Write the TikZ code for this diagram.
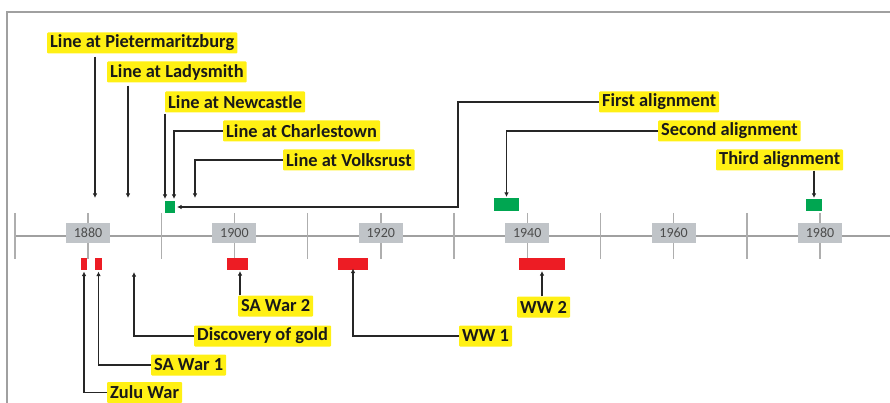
\documentclass[tikz,border=0pt]{standalone}
\usepackage{fontspec}
\setmainfont{Carlito}
\usetikzlibrary{arrows.meta}
\definecolor{hl}{RGB}{255,240,20}
\definecolor{evg}{RGB}{0,166,81}
\definecolor{evr}{RGB}{237,28,36}
\definecolor{yrbox}{RGB}{192,196,200}
\definecolor{axisgray}{RGB}{160,160,160}
\definecolor{framegray}{RGB}{160,160,160}
\tikzset{
  lbl/.style={fill=hl, text=black!90, font=\bfseries\fontsize{18.4}{20}\selectfont, inner xsep=3pt, inner ysep=0pt, minimum height=21pt, anchor=west, rounded corners=1pt},
  yr/.style={fill=yrbox, text=black!70, font=\fontsize{14}{15}\selectfont, minimum width=44pt, minimum height=20pt, inner sep=0pt},
  gbox/.style={fill=evg, inner sep=0pt, outer sep=0pt},
  rbox/.style={fill=evr, inner sep=0pt, outer sep=0pt},
  conn/.style={draw=black!85, line width=1.7pt, -{Latex[length=4.5pt,width=4.5pt]}},
  axisline/.style={draw=axisgray, line width=1.6pt},
  tickline/.style={draw=axisgray!85, line width=1.4pt},
}
\begin{document}
\begin{tikzpicture}[x=1pt,y=-1pt]
\useasboundingbox (0,0) rectangle (890,403);
% frame
\draw[framegray, line width=1.6pt] (7,403) -- (7,12) -- (890,12);
% axis
\draw[axisline] (14,236) -- (890,236);
\foreach \xx in {14.8,161.2,307.6,454,600.4,746.8,88,234.4,380.8,527.2,673.6,820}
  \draw[tickline] (\xx,213) -- (\xx,259);
\node[yr] (y1880) at (88,233) {1880};
\node[yr] (y1900) at (234.4,233) {1900};
\node[yr] (y1920) at (380.8,233) {1920};
\node[yr] (y1940) at (527.2,233) {1940};
\node[yr] (y1960) at (673.6,233) {1960};
\node[yr] (y1980) at (820,233) {1980};
% event boxes
\node[gbox, minimum width=10pt, minimum height=12pt] (g1) at (170,207) {};
\node[gbox, minimum width=25pt, minimum height=13pt] (g2) at (506.5,204.5) {};
\node[gbox, minimum width=16pt, minimum height=12pt] (g3) at (814,205) {};
\node[rbox, minimum width=6pt, minimum height=12pt] (rz) at (84,264) {};
\node[rbox, minimum width=7pt, minimum height=12pt] (rs1) at (98.5,264) {};
\node[rbox, minimum width=21pt, minimum height=12pt] (rs2) at (237.5,264) {};
\node[rbox, minimum width=30pt, minimum height=12pt] (rw1) at (353,264) {};
\node[rbox, minimum width=46pt, minimum height=12pt] (rw2) at (542,264) {};
% labels top
\node[lbl] (pm) at (47,43) {Line at Pietermaritzburg};
\node[lbl] (ls) at (107,72) {Line at Ladysmith};
\node[lbl] (nc) at (165,102) {Line at Newcastle};
\node[lbl] (ch) at (223,131) {Line at Charlestown};
\node[lbl] (vr) at (283,160) {Line at Volksrust};
\node[lbl] (fa) at (599,102) {First alignment};
\node[lbl] (sa) at (658,131) {Second alignment};
\node[lbl] (ta) at (716,160) {Third alignment};
% labels bottom
\node[lbl] (s2) at (238,306) {SA War 2};
\node[lbl] (dg) at (194,336) {Discovery of gold};
\node[lbl] (s1) at (151,365) {SA War 1};
\node[lbl] (zw) at (107,392.5) {Zulu War};
\node[lbl] (w1) at (459,336) {WW 1};
\node[lbl] (w2) at (517,307) {WW 2};
% connector end points
\coordinate (pmE) at (95,198);
\coordinate (lsE) at (128,198);
\coordinate (ncE) at (165,199);
\coordinate (chE) at (174,199);
\coordinate (vrE) at (195,198);
\coordinate (faK) at (458,207);
\coordinate (dgE) at (134,272);
\coordinate (s2E) at (240,271);
\coordinate (w2E) at (542,271);
% connectors top
\draw[conn] (pm.south -| pmE) ++(0,3) -- (pmE);
\draw[conn] (ls.south -| lsE) ++(0,3) -- (lsE);
\draw[conn] (nc.south -| ncE) ++(0,1) -- (ncE);
\draw[conn] (ch.west) -| (chE);
\draw[conn] (vr.west) -| (vrE);
\draw[conn, shorten >=2pt] (fa.west) -| (faK) -- (g1.east);
\draw[conn, shorten >=1pt] (sa.west) -| (g2.north);
\draw[conn, shorten >=1pt] (ta.south -| g3.north) -- (g3.north);
% connectors bottom
\draw[conn, shorten >=1.5pt] (zw.west) -| (rz.south);
\draw[conn, shorten >=1.5pt] (s1.west) -| (rs1.south);
\draw[conn] (dg.west) -| (dgE);
\draw[conn] (s2.north -| s2E) -- (s2E);
\draw[conn] (w1.west) -| ([yshift=1.5pt]rw1.south);
\draw[conn] (w2.north -| w2E) -- (w2E);
\end{tikzpicture}
\end{document}
